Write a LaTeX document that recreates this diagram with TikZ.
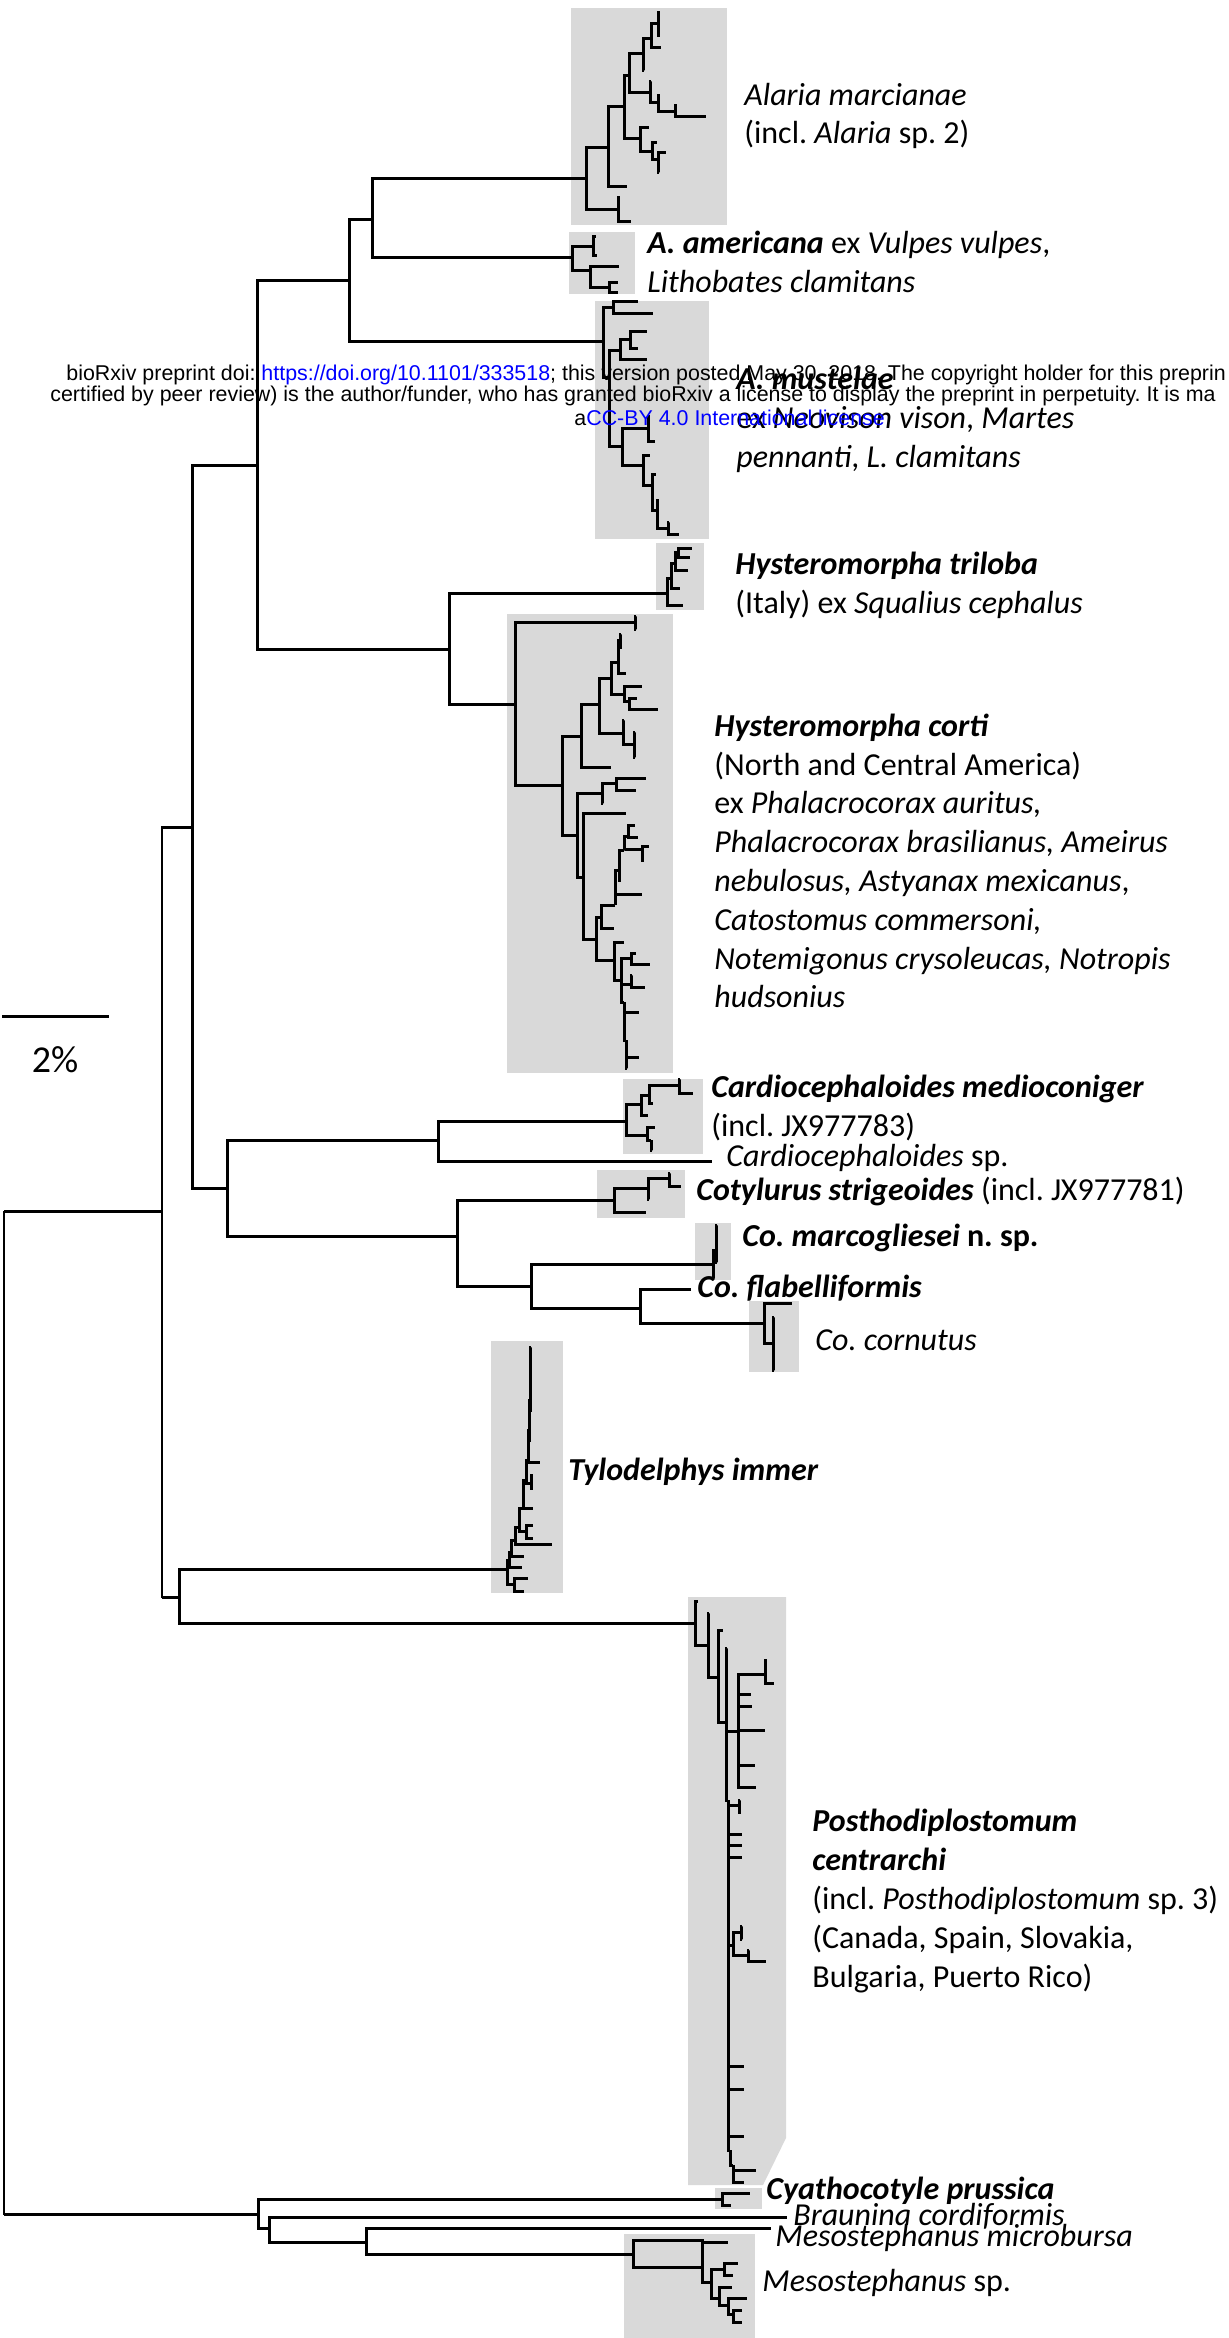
\documentclass[tikz,border=0pt]{standalone}
\usepackage{fontspec}
\setmainfont{Carlito}
\newfontfamily\wmfont{Liberation Sans}
\definecolor{cladegray}{HTML}{D9D9D9}
\definecolor{wmblue}{HTML}{0000FF}
\newcommand{\spb}[1]{\textbf{\textit{#1}}}
\frenchspacing

\begin{document}
\begin{tikzpicture}[x=0.5pt, y=-0.5pt,
      br/.style={line width=1.5pt},
      thinbr/.style={line width=0.75pt},
      clade/.style={fill=cladegray, draw=none},
      lab/.style={anchor=west, inner sep=0pt, align=left,
                  font=\fontsize{16}{19.4}\selectfont},
      wm/.style={anchor=west, inner sep=0pt,
                 font=\wmfont\fontsize{10.7}{11}\selectfont},
    ]
      \useasboundingbox (0,0) rectangle (1228,2338);
      \clip (0,0) rectangle (1228,2338);

      \fill[clade] (571,8) rectangle (727,225);
      \fill[clade] (569,232) rectangle (635,294);
      \fill[clade] (595,301) rectangle (709,539);
      \fill[clade] (656,543) rectangle (704,610);
      \fill[clade] (507,614) rectangle (673,1073);
      \fill[clade] (623,1079) rectangle (703,1154);
      \fill[clade] (597,1170) rectangle (685,1218);
      \fill[clade] (695,1223) rectangle (731,1280);
      \fill[clade] (749,1301) rectangle (799,1372);
      \fill[clade] (491,1341) rectangle (563,1593);
      \fill[clade] (688,1597) -- (786,1597) -- (786,2138) -- (763,2185) -- (688,2185) -- cycle;
      \fill[clade] (715,2188) rectangle (762,2209);
      \fill[clade] (624,2234) rectangle (755,2338);

      \coordinate (root) at (4,1211);
      \coordinate (n1) at (162,1211);
      \coordinate (a) at (192,827);
      \coordinate (b) at (257,465);
      \coordinate (c) at (227,1188);
      \coordinate (d) at (349,281);
      \coordinate (e) at (372,220);
      \coordinate (hy) at (449,649);
      \coordinate (f) at (438,1140);
      \coordinate (g) at (457,1236);
      \coordinate (h) at (531,1286);
      \coordinate (i) at (640,1308);
      \coordinate (t) at (179,1597);
      \coordinate (og) at (258,2214);
      \coordinate (j) at (269,2228);
      \coordinate (k) at (366,2242);
      \coordinate (alar) at (586,179);
      \coordinate (amer) at (572,258);
      \coordinate (must) at (603,342);
      \coordinate (tril) at (667,593);
      \coordinate (cort) at (515,704);
      \coordinate (med) at (626,1121);
      \coordinate (csp) at (712,1161);
      \coordinate (cot) at (614,1200);
      \coordinate (marc) at (713,1264);
      \coordinate (flab) at (691,1289);
      \coordinate (corn) at (764,1323);
      \coordinate (tyl) at (507,1569);
      \coordinate (post) at (695,1623);
      \coordinate (cya) at (722,2199);
      \coordinate (brau) at (787,2217);
      \coordinate (micro) at (771,2228);
      \coordinate (mes) at (633,2254);

      \draw[thinbr] (root) |- (og);
      \draw[br] (root |- og) -- (og);
      \draw[br] (root) -- (n1);
      \draw[thinbr] (n1) |- (a);
      \draw[thinbr] (n1) |- (t);
      \draw[br] (n1 |- a) -- (a);
      \draw[br] (n1 |- t) -- (t);
      \foreach \p/\c in {a/b, a/c, b/d, b/hy, d/e, d/must, e/alar, e/amer,
                         hy/tril, hy/cort, c/f, c/g, f/med, f/csp, g/cot, g/h,
                         h/marc, h/i, i/flab, i/corn, t/tyl, t/post,
                         og/cya, og/j, j/brau, j/k, k/micro, k/mes}
        \draw[br] (\p) |- (\c);

      \foreach \px/\py/\cx/\cy in {
          586/179/608/148, 586/179/618/210, 608/148/627/187, 608/148/624/107,
          624/107/629/76, 624/107/640/139, 629/76/643/54, 629/76/650/93,
          643/54/651/39, 643/54/644/71, 651/39/658/24, 651/39/661/48,
          658/24/660/13, 658/24/660/36, 650/93/651/82, 650/93/658/103,
          658/103/660/96, 658/103/675/112, 675/112/677/106, 675/112/706/117,
          640/139/649/128, 640/139/652/152, 652/152/657/143, 652/152/658/160,
          658/160/666/153, 658/160/659/173, 618/210/620/198, 618/210/631/222,
          572/258/593/247, 593/247/596/237, 593/247/597/256,
          572/258/590/271, 590/271/619/267, 590/271/609/288,
          609/288/618/283, 609/288/618/293,
          603/342/613/308, 613/308/638/302, 613/308/653/314,
          603/342/609/378, 609/378/620/351, 620/351/630/340,
          630/340/647/332, 630/340/638/349, 620/351/647/360,
          609/378/622/446, 622/446/648/428, 648/428/650/416, 648/428/655/441,
          622/446/643/465, 643/465/650/455, 643/465/652/485,
          652/485/656/474, 652/485/657/510, 657/510/659/500, 657/510/668/528,
          668/528/669/522, 668/528/679/534,
          667/593/683/605, 667/593/671/578, 671/578/680/588, 671/578/675/563,
          675/563/688/570, 675/563/678/552, 678/552/692/548, 678/552/690/557}
        \draw[br] (\px,\py) |- (\cx,\cy);

      \foreach \px/\py/\cx/\cy in {
          515/704/635/622, 635/622/636/616, 635/622/636/629,
          515/704/562/785, 562/785/581/736, 581/736/611/767, 581/736/599/704,
          599/704/611/678, 599/704/623/733, 611/678/618/662, 611/678/624/694,
          618/662/620/640, 620/640/621/634, 620/640/622/647, 618/662/626/673,
          624/694/642/686, 624/694/629/701, 629/701/637/698, 629/701/658/709,
          623/733/624/720, 623/733/634/744, 634/744/635/732, 634/744/635/757,
          562/785/577/835, 577/835/602/793, 577/835/583/877,
          602/793/616/783, 616/783/646/778, 616/783/636/790, 602/793/603/803,
          583/877/626/813, 583/877/596/939, 596/939/601/917, 596/939/614/960,
          601/917/614/928, 601/917/615/905, 615/905/642/894, 615/905/619/870,
          619/870/621/880, 619/870/624/850, 624/850/642/849, 642/849/649/846,
          642/849/644/860, 624/850/628/836, 628/836/638/837, 628/836/635/825,
          614/960/624/942, 614/960/621/980, 621/980/631/958, 631/958/636/953,
          631/958/650/964, 621/980/631/984, 631/984/645/987, 631/984/632/975,
          621/980/624/1002, 624/1002/639/1012, 624/1002/626/1040,
          626/1040/639/1057, 626/1040/627/1068}
        \draw[br] (\px,\py) |- (\cx,\cy);

      \foreach \px/\py/\cx/\cy in {
          626/1121/641/1104, 641/1104/649/1095, 649/1095/679/1085,
          679/1085/680/1079, 679/1085/693/1093, 649/1095/653/1103,
          641/1104/648/1115, 626/1121/647/1135, 647/1135/655/1127,
          647/1135/651/1140, 651/1140/652/1150,
          614/1200/646/1212, 614/1200/648/1188, 648/1188/649/1199,
          648/1188/669/1178, 669/1178/670/1173, 669/1178/681/1186,
          713/1264/714/1278, 713/1264/716/1250, 716/1250/717/1225, 716/1250/717/1262,
          764/1323/792/1303, 764/1323/773/1343, 773/1343/774/1317, 773/1343/774/1370}
        \draw[br] (\px,\py) |- (\cx,\cy);

      \foreach \px/\py/\cx/\cy in {
          507/1569/509/1560, 507/1569/514/1584, 514/1584/528/1578, 514/1584/524/1591,
          509/1560/522/1567, 509/1560/511/1552, 511/1552/524/1556, 511/1552/515/1540,
          515/1540/552/1544, 515/1540/519/1527, 519/1527/526/1531, 526/1531/533/1525,
          526/1531/533/1538, 519/1527/523/1508, 523/1508/533/1508, 523/1508/526/1480,
          526/1480/531/1483, 531/1483/533/1475, 531/1483/533/1488, 526/1480/528/1460,
          528/1460/540/1462, 528/1460/529/1430, 529/1430/531/1440, 529/1430/530/1400,
          530/1400/532/1410, 530/1400/531/1347}
        \draw[br] (\px,\py) |- (\cx,\cy);

      \foreach \px/\py/\cx/\cy in {
          695/1623/698/1601, 695/1623/708/1645, 708/1645/709/1613, 708/1645/718/1677,
          718/1677/723/1630, 718/1677/726/1722, 726/1722/727/1648, 726/1722/738/1731,
          726/1722/728/1800, 738/1731/765/1674, 765/1674/767/1660, 765/1674/774/1683,
          738/1731/751/1694, 738/1731/752/1706, 738/1731/765/1730, 738/1731/755/1765,
          738/1731/756/1787, 728/1800/739/1805, 739/1805/740/1800, 739/1805/741/1812,
          728/1800/742/1834, 728/1800/742/1845, 728/1800/742/1857,
          728/1800/733/1945, 733/1945/741/1932, 741/1932/742/1926, 741/1932/742/1939,
          733/1945/748/1955, 748/1955/749/1950, 748/1955/766/1961,
          728/1800/744/2066, 728/1800/744/2089, 728/1800/744/2136,
          728/1800/730/2150, 730/2150/733/2165, 733/2165/756/2170, 733/2165/744/2182,
          722/2199/750/2193, 722/2199/731/2205,
          633/2254/704/2240, 633/2254/702/2267, 702/2267/728/2242, 702/2267/711/2282,
          711/2282/724/2269, 724/2269/738/2263, 724/2269/733/2275, 711/2282/719/2298,
          719/2298/732/2287, 719/2298/728/2305, 728/2305/747/2298, 728/2305/733/2314,
          733/2314/742/2310, 733/2314/742/2322}
        \draw[br] (\px,\py) |- (\cx,\cy);

      \node[lab] (labAlar) at (744,116) {\textit{Alaria marcianae}\\(incl. \textit{Alaria} sp. 2)};
      \node[lab] (labAmer) at (647,262) {\spb{A. americana} ex \textit{Vulpes vulpes},\\\textit{Lithobates clamitans}};
      \node[lab] (labMust) at (736,420) {\spb{A. mustelae}\\ex \textit{Neovison vison}, \textit{Martes}\\\textit{pennanti}, \textit{L. clamitans}};
      \node[lab] (labTril) at (735,585) {\spb{Hysteromorpha triloba}\\(Italy) ex \textit{Squalius cephalus}};
      \node[lab] (labCort) at (714,861) {\spb{Hysteromorpha corti}\\(North and Central America)\\ex \textit{Phalacrocorax auritus,}\\\textit{Phalacrocorax brasilianus, Ameirus}\\\textit{nebulosus, Astyanax mexicanus},\\\textit{Catostomus commersoni,}\\\textit{Notemigonus crysoleucas, Notropis}\\\textit{hudsonius}};
      \node[lab] (labMed) at (711,1108) {\spb{Cardiocephaloides medioconiger}\\(incl. JX977783)};
      \node[lab] (labCsp) at (726,1158) {\textit{Cardiocephaloides} sp.};
      \node[lab] (labCot) at (696,1191) {\spb{Cotylurus strigeoides} (incl. JX977781)};
      \node[lab] (labMarc) at (742,1238) {\spb{Co. marcogliesei} \textbf{n. sp.}};
      \node[lab] (labFlab) at (697,1288) {\spb{Co. flabelliformis}};
      \node[lab] (labCorn) at (815,1340) {\textit{Co. cornutus}};
      \node[lab] (labTyl) at (568,1472) {\spb{Tylodelphys immer}};
      \node[lab] (labPost) at (812,1901) {\spb{Posthodiplostomum}\\\spb{centrarchi}\\(incl. \textit{Posthodiplostomum} sp. 3)\\(Canada, Spain, Slovakia,\\Bulgaria, Puerto Rico)};
      \node[lab] (labCya) at (766,2191) {\spb{Cyathocotyle prussica}};
      \node[lab] (labBrau) at (793,2216) {\textit{Braunina cordiformis}};
      \node[lab] (labMicro) at (775,2238) {\textit{Mesostephanus microbursa}};
      \node[lab] (labMes) at (762,2283) {\textit{Mesostephanus} sp.};

      \coordinate (sbL) at (2,1016);
      \coordinate (sbR) at (109,1016);
      \draw[br] (sbL) -- (sbR);
      \node[inner sep=0pt, font=\fontsize{19}{22}\selectfont] (sbLab) at (55,1060) {2\%};

      \node[wm] (wm1) at (66,375) {bioRxiv preprint doi: \textcolor{wmblue}{https://doi.org/10.1101/333518}; this version posted May 30, 2018. The copyright holder for this preprin};
      \node[wm] (wm2) at (50,396) {certified by peer review) is the author/funder, who has granted bioRxiv a license to display the preprint in perpetuity. It is ma};
      \node[wm] (wm3) at (574,418) {a\textcolor{wmblue}{CC-BY 4.0 International license}};
    \end{tikzpicture}
\end{document}
